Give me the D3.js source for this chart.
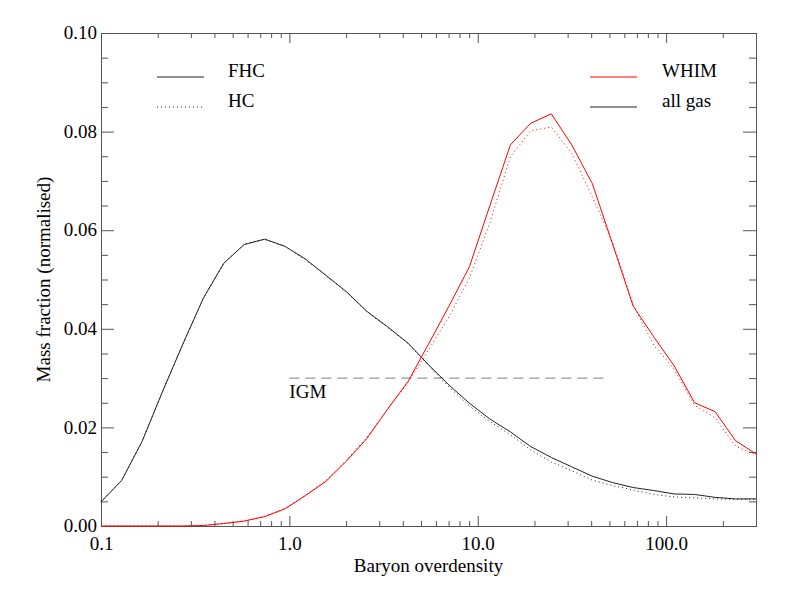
<!DOCTYPE html>
<html>
<head>
<meta charset="utf-8">
<script src="https://cdnjs.cloudflare.com/ajax/libs/d3/7.8.5/d3.min.js"></script>
<style>
  body { margin: 0; background: #fff; }
  text { font-family: "Liberation Serif", "DejaVu Serif", serif; fill: #000; }
</style>
</head>
<body>
<div id="my_dataviz"></div>
<script>
// baryon overdensity bins (log spaced)
var overdensity = [0.1, 0.1285, 0.165, 0.2118, 0.272, 0.3493, 0.4487, 0.5763, 0.7401, 0.9504,
  1.221, 1.568, 2.013, 2.586, 3.321, 4.265, 5.477, 7.035, 9.035, 11.60,
  14.90, 19.13, 24.58, 31.56, 40.53, 52.06, 66.86, 85.86, 110.3, 141.6,
  181.9, 233.6, 300];

// all gas, FHC (solid black)
var allGasFHC = [0.0049, 0.0092, 0.0171, 0.0272, 0.0369, 0.0462, 0.0533, 0.0571, 0.0582, 0.0567,
  0.0541, 0.0508, 0.0475, 0.0435, 0.0404, 0.0371, 0.0327, 0.0286, 0.0249, 0.0217,
  0.0191, 0.0161, 0.0139, 0.0120, 0.0101, 0.0088, 0.0078, 0.0072, 0.0065, 0.0064,
  0.0058, 0.0055, 0.0055];

// all gas, HC (dotted black)
var allGasHC = [0.0049, 0.0092, 0.0171, 0.0272, 0.0369, 0.0462, 0.0533, 0.0572, 0.0581, 0.0567,
  0.0540, 0.0508, 0.0474, 0.0434, 0.0403, 0.0370, 0.0326, 0.0282, 0.0243, 0.0212,
  0.0185, 0.0154, 0.0130, 0.0112, 0.0093, 0.0082, 0.0073, 0.0064, 0.0059, 0.0057,
  0.0055, 0.0054, 0.0054];

// WHIM, FHC (solid red)
var whimFHC = [0, 0, 0, 0, 0, 0.0001, 0.0005, 0.0010, 0.0019, 0.0035,
  0.0062, 0.0091, 0.0132, 0.0178, 0.0237, 0.0293, 0.0369, 0.0446, 0.0526, 0.0650,
  0.0773, 0.0817, 0.0836, 0.0773, 0.0695, 0.0571, 0.0446, 0.0384, 0.0325, 0.0250,
  0.0232, 0.0173, 0.0146];

// WHIM, HC (dotted red)
var whimHC = [0, 0, 0, 0, 0, 0.0001, 0.0005, 0.0010, 0.0020, 0.0036,
  0.0063, 0.0093, 0.0134, 0.0180, 0.0237, 0.0291, 0.0357, 0.0424, 0.0503, 0.0615,
  0.0749, 0.0802, 0.0809, 0.0756, 0.0668, 0.0575, 0.0449, 0.0367, 0.0318, 0.0245,
  0.0219, 0.0162, 0.0144];

var xTickValues = [0.1, 1, 10, 100];
var xTickLabels = ["0.1", "1.0", "10.0", "100.0"];
var xMinorTicks = [0.2, 0.3, 0.4, 0.5, 0.6, 0.7, 0.8, 0.9, 2, 3, 4, 5, 6, 7, 8, 9,
  20, 30, 40, 50, 60, 70, 80, 90, 200, 300];
var yTickValues = [0, 0.02, 0.04, 0.06, 0.08, 0.10];
var yTickLabels = ["0.00", "0.02", "0.04", "0.06", "0.08", "0.10"];
var yMinorTicks = [0.005, 0.01, 0.015, 0.025, 0.03, 0.035, 0.045, 0.05, 0.055,
  0.065, 0.07, 0.075, 0.085, 0.09, 0.095];

var igmLevel = 0.03;
var igmRange = [1, 50];

var legendLeft = ["FHC", "HC"];
var legendRight = ["WHIM", "all gas"];

var serif = "Liberation Serif";

// set the dimensions and margins of the graph
var margin = {top: 33, right: 30, bottom: 65, left: 101},
    width = 786 - margin.left - margin.right,
    height = 591 - margin.top - margin.bottom;

var svg = d3.select("#my_dataviz")
  .append("svg")
    .attr("width", 786)
    .attr("height", 591)
  .append("g")
    .attr("transform", "translate(" + margin.left + "," + margin.top + ")");

var x = d3.scaleLog()
    .domain([0.1, 300])
    .range([0, width]);

var y = d3.scaleLinear()
    .domain([0, 0.1])
    .range([height, 0]);

var axisColor = "#555";

// bottom axis: major + minor ticks, labels
svg.append("g")
    .attr("transform", "translate(0," + height + ")")
    .call(d3.axisBottom(x).tickValues(xTickValues).tickSize(-10).tickPadding(11)
      .tickFormat(function(d, i) { return xTickLabels[i]; }))
    .attr("font-family", serif)
    .call(g => g.select(".domain").remove())
    .call(g => g.selectAll("line").attr("stroke", axisColor))
    .call(g => g.selectAll("text").attr("font-size", 19).attr("font-family", serif));
svg.append("g")
    .attr("transform", "translate(0," + height + ")")
    .call(d3.axisBottom(x).tickValues(xMinorTicks).tickSize(-5).tickFormat(""))
    .call(g => g.select(".domain").remove())
    .call(g => g.selectAll("line").attr("stroke", axisColor));

// top axis ticks
svg.append("g")
    .call(d3.axisTop(x).tickValues(xTickValues).tickSize(-10).tickFormat(""))
    .call(g => g.select(".domain").remove())
    .call(g => g.selectAll("line").attr("stroke", axisColor));
svg.append("g")
    .call(d3.axisTop(x).tickValues(xMinorTicks).tickSize(-5).tickFormat(""))
    .call(g => g.select(".domain").remove())
    .call(g => g.selectAll("line").attr("stroke", axisColor));

// left axis
svg.append("g")
    .call(d3.axisLeft(y).tickValues(yTickValues).tickSize(-13).tickPadding(4)
      .tickFormat(function(d, i) { return yTickLabels[i]; }))
    .attr("font-family", serif)
    .call(g => g.select(".domain").remove())
    .call(g => g.selectAll("line").attr("stroke", axisColor))
    .call(g => g.selectAll("text").attr("font-size", 19).attr("font-family", serif)
      .attr("dy", "0.3em"));
svg.append("g")
    .call(d3.axisLeft(y).tickValues(yMinorTicks).tickSize(-7).tickFormat(""))
    .call(g => g.select(".domain").remove())
    .call(g => g.selectAll("line").attr("stroke", axisColor));

// right axis ticks
svg.append("g")
    .attr("transform", "translate(" + width + ",0)")
    .call(d3.axisRight(y).tickValues(yTickValues).tickSize(-13).tickFormat(""))
    .call(g => g.select(".domain").remove())
    .call(g => g.selectAll("line").attr("stroke", axisColor));
svg.append("g")
    .attr("transform", "translate(" + width + ",0)")
    .call(d3.axisRight(y).tickValues(yMinorTicks).tickSize(-7).tickFormat(""))
    .call(g => g.select(".domain").remove())
    .call(g => g.selectAll("line").attr("stroke", axisColor));

// frame
svg.append("rect")
    .attr("x", 0.5)
    .attr("y", 0.5)
    .attr("width", width)
    .attr("height", height)
    .attr("fill", "none")
    .attr("stroke", axisColor);

// axis titles
svg.append("text")
    .attr("x", width / 2)
    .attr("y", height + 46)
    .attr("text-anchor", "middle")
    .attr("font-family", serif)
    .attr("font-size", 19)
    .text("Baryon overdensity");

svg.append("text")
    .attr("transform", "translate(" + (-51) + "," + (height / 2) + ") rotate(-90)")
    .attr("text-anchor", "middle")
    .attr("font-family", serif)
    .attr("font-size", 19)
    .text("Mass fraction (normalised)");

// IGM marker
svg.append("line")
    .attr("x1", x(igmRange[0]))
    .attr("x2", x(igmRange[1]))
    .attr("y1", y(igmLevel))
    .attr("y2", y(igmLevel))
    .attr("stroke", "#999")
    .attr("stroke-width", 1.4)
    .attr("stroke-dasharray", "10,6");
svg.append("text")
    .attr("x", x(igmRange[0]))
    .attr("y", y(igmLevel) + 20)
    .attr("font-family", serif)
    .attr("font-size", 19)
    .text("IGM");

// the curves
var series = [
  {values: allGasFHC, color: "#222", dash: null},
  {values: allGasHC, color: "#222", dash: "1,3"},
  {values: whimFHC, color: "red", dash: null},
  {values: whimHC, color: "red", dash: "1,3"}
];

var line = d3.line()
    .x(function(d, i) { return x(overdensity[i]); })
    .y(function(d) { return y(d); });

series.forEach(function(s) {
  svg.append("path")
      .datum(s.values)
      .attr("fill", "none")
      .attr("stroke", s.color)
      .attr("stroke-width", 1)
      .attr("stroke-dasharray", s.dash)
      .attr("d", line);
});

// legends
var legendStyle = {
  "FHC": {color: "#222", dash: null},
  "HC": {color: "#222", dash: "1,3"},
  "WHIM": {color: "red", dash: null},
  "all gas": {color: "#222", dash: null}
};

function drawLegend(names, x0, x1, xt) {
  names.forEach(function(name, i) {
    var yy = 44 + i * 30;
    svg.append("line")
        .attr("x1", x0).attr("x2", x1)
        .attr("y1", yy).attr("y2", yy)
        .attr("stroke", legendStyle[name].color)
        .attr("stroke-width", 1)
        .attr("stroke-dasharray", legendStyle[name].dash);
    svg.append("text")
        .attr("x", xt)
        .attr("y", yy)
        .attr("font-family", serif)
        .attr("font-size", 19)
        .text(name);
  });
}
drawLegend(legendLeft, 56, 103, 127);
drawLegend(legendRight, 489, 536, 561);
</script>
</body>
</html>
